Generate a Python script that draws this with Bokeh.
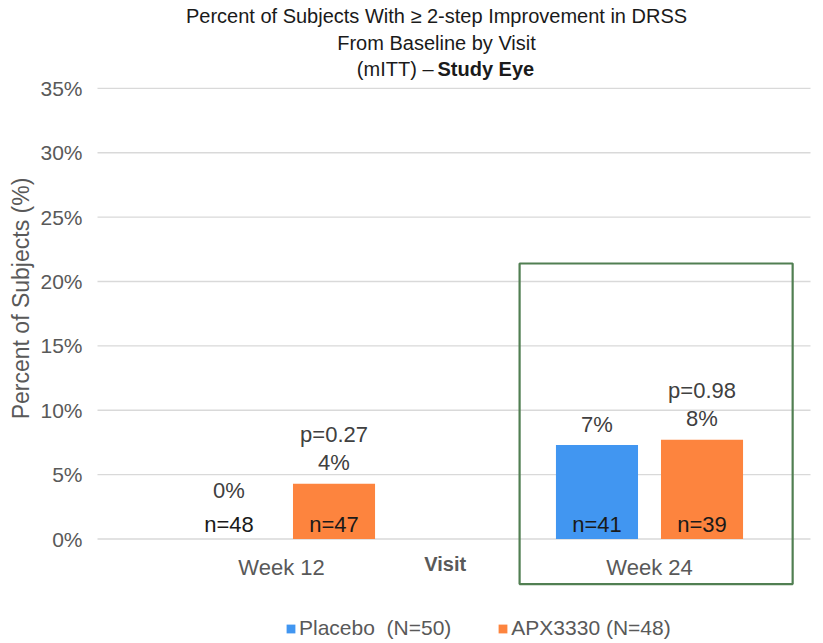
import math

from bokeh.core.properties import value
from bokeh.embed import file_html
from bokeh.models import (ColumnDataSource, Label, Legend, LegendItem,
                          Range1d)
from bokeh.plotting import figure
from bokeh.resources import INLINE

# ---- data ---------------------------------------------------------------
visits = ["Week 12", "Week 24"]
placebo_n = [48, 41]
placebo_pct = [0.0, 7.3]          # 0/48, 3/41
apx_n = [47, 39]
apx_pct = [4.3, 7.7]              # 2/47, 3/39
p_values = ["p=0.27", "p=0.98"]
y_ticks = [0, 5, 10, 15, 20, 25, 30, 35]

title_lines = ["Percent of Subjects With \u2265 2-step Improvement in DRSS",
               "From Baseline by Visit"]
title_tail_plain = "(mITT) \u2013"
title_tail_bold = "Study Eye"
y_title = "Percent of Subjects (%)"
x_title = "Visit"
series_names = ["Placebo\u00a0\u00a0(N=50)", "APX3330 (N=48)"]

# ---- layout / style -----------------------------------------------------
W, H = 823, 643
PLOT_LEFT_PX, PLOT_RIGHT_PX = 97, 810     # horizontal extent of the plot area
X_UNIT_PX = 368                           # pixels between two visits
ZERO_Y_PX, Y_UNIT_PX = 538.5, 12.875      # baseline position, px per 1 %

FONT_NAME = "Liberation Sans"
FONT = value(FONT_NAME)
BLUE = "#4196F1"
ORANGE = "#FD843E"
GREEN = "#517F52"
GRID = "#D9D9D9"
AXIS_TXT = "#595959"
LABEL_TXT = "#404040"
TITLE_TXT = "#1A1A1A"

BAR_W = 0.223
OFFSET = 0.1427

x_start = -0.5 - PLOT_LEFT_PX / X_UNIT_PX
x_end = x_start + W / X_UNIT_PX
plot_x0 = -0.5
plot_x1 = x_start + PLOT_RIGHT_PX / X_UNIT_PX
y_start = -(H - ZERO_Y_PX) / Y_UNIT_PX
y_end = ZERO_Y_PX / Y_UNIT_PX

# the data area covers the whole canvas so that titles and legend are drawn
# inside it; grid lines and tick labels are drawn explicitly
p = figure(width=W, height=H, frame_width=W, frame_height=H,
           min_border=0, output_backend="svg", toolbar_location=None,
           x_range=Range1d(x_start, x_end), y_range=Range1d(y_start, y_end))
p.outline_line_color = None
p.background_fill_color = "white"
p.border_fill_color = "white"
p.axis.visible = False
p.grid.visible = False

# horizontal grid lines and percentage tick labels
p.segment(x0=[plot_x0] * len(y_ticks), x1=[plot_x1] * len(y_ticks),
          y0=y_ticks, y1=y_ticks, line_color=GRID, line_width=1.3)
p.text(x=[plot_x0] * len(y_ticks), y=y_ticks,
       text=[f"{t}%" for t in y_ticks], text_font=FONT,
       text_font_size="21px", text_color=AXIS_TXT, text_align="right",
       text_baseline="middle", x_offset=-15)

idx = list(range(len(visits)))
src = ColumnDataSource(dict(
    xp=[i - OFFSET for i in idx], xa=[i + OFFSET for i in idx],
    yp=placebo_pct, ya=apx_pct,
    np_lbl=[f"n={n}" for n in placebo_n], na_lbl=[f"n={n}" for n in apx_n],
    pp_lbl=[f"{v:.0f}%" for v in placebo_pct],
    pa_lbl=[f"{v:.0f}%" for v in apx_pct],
    pp_y=[max(v, 2.1) for v in placebo_pct],
    pa_y=[max(v, 2.1) for v in apx_pct],
    pval=p_values,
))

# highlight box around the Week 24 group
p.quad(left=[1 - 0.353], right=[1 + 0.389], bottom=[-3.5], top=[21.4],
       fill_color=None, line_color=GREEN, line_width=2.2)

r_pl = p.vbar(x="xp", top="yp", width=BAR_W, source=src, fill_color=BLUE,
              line_color=None)
r_apx = p.vbar(x="xa", top="ya", width=BAR_W, source=src, fill_color=ORANGE,
               line_color=None)

# n= labels at the base of each bar
for xcol, tcol in (("xp", "np_lbl"), ("xa", "na_lbl")):
    p.text(x=xcol, y=0, text=tcol, source=src, text_font=FONT,
           text_font_size="22px", text_color=TITLE_TXT, text_align="center",
           text_baseline="middle", y_offset=-15)

# percentage labels above the bars, p-values above the APX3330 ones
p.text(x="xp", y="pp_y", text="pp_lbl", source=src, text_font=FONT,
       text_font_size="22px", text_color=LABEL_TXT, text_align="center",
       text_baseline="middle", y_offset=-21)
p.text(x="xa", y="pa_y", text="pa_lbl", source=src, text_font=FONT,
       text_font_size="22px", text_color=LABEL_TXT, text_align="center",
       text_baseline="middle", y_offset=-21)
p.text(x="xa", y="pa_y", text="pval", source=src, text_font=FONT,
       text_font_size="22px", text_color=LABEL_TXT, text_align="center",
       text_baseline="middle", y_offset=-49)

# visit labels along the bottom, plus the axis name between them
p.text(x=idx, y=[0] * len(idx), text=visits, text_font=FONT,
       text_font_size="22px", text_color=AXIS_TXT, text_align="center",
       text_baseline="middle", y_offset=28)
p.text(x=[0.445], y=[0], text=[x_title], text_font=FONT,
       text_font_size="20px", text_font_style="bold", text_color=AXIS_TXT,
       text_align="center", text_baseline="middle", y_offset=25)

# y axis title (screen units, measured from the lower-left corner)
p.add_layout(Label(x=20, y=H - 298, x_units="screen", y_units="screen",
                   text=y_title, angle=math.pi / 2,
                   text_font=FONT_NAME, text_font_size="23px",
                   text_color=AXIS_TXT, text_align="center",
                   text_baseline="middle"))

# chart title (three lines, last one partly bold)
TITLE_CX = 436
for ty, line in zip((H - 15, H - 42), title_lines):
    p.add_layout(Label(x=TITLE_CX, y=ty, x_units="screen", y_units="screen",
                       text=line, text_font=FONT_NAME,
                       text_font_size="20px", text_color=TITLE_TXT,
                       text_align="center", text_baseline="middle"))
p.add_layout(Label(x=TITLE_CX - 3, y=H - 68, x_units="screen",
                   y_units="screen", text=title_tail_plain,
                   text_font=FONT_NAME, text_font_size="20px",
                   text_color=TITLE_TXT, text_align="right",
                   text_baseline="middle"))
p.add_layout(Label(x=TITLE_CX + 1, y=H - 68, x_units="screen",
                   y_units="screen", text=title_tail_bold,
                   text_font=FONT_NAME, text_font_size="20px",
                   text_font_style="bold", text_color=TITLE_TXT,
                   text_align="left", text_baseline="middle"))

# legend below the chart
legend = Legend(items=[LegendItem(label=series_names[0], renderers=[r_pl]),
                       LegendItem(label=series_names[1], renderers=[r_apx])],
                orientation="horizontal", location=(285, 3),
                glyph_width=11, glyph_height=11, label_standoff=3,
                spacing=46, padding=0, margin=0, label_height=20,
                label_text_font=FONT_NAME,
                label_text_font_size="21px", label_text_color=AXIS_TXT,
                border_line_color=None, background_fill_alpha=0)
p.add_layout(legend)

open("out.html", "w").write(file_html(p, INLINE))
